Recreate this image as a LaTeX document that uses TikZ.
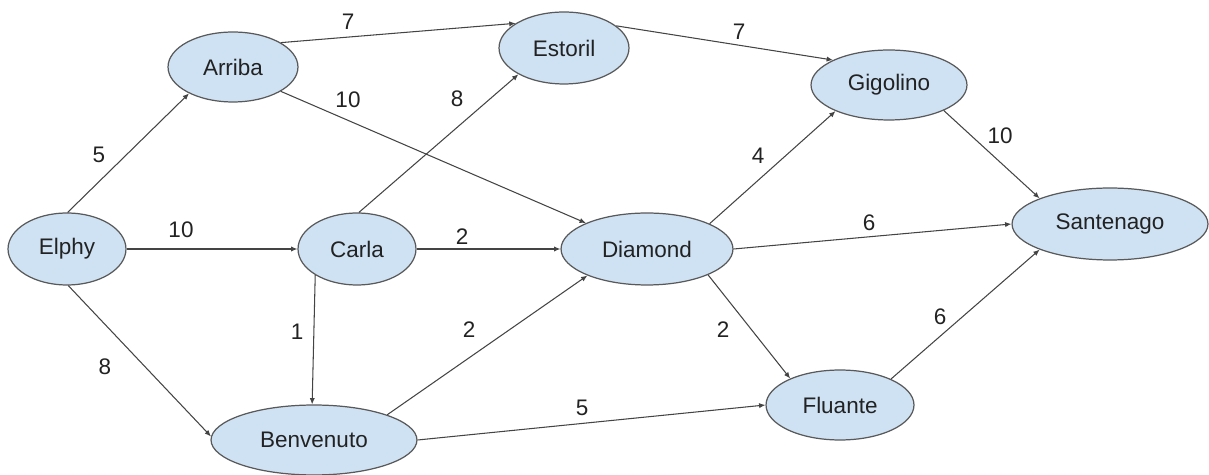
\documentclass[tikz,border=0pt]{standalone}
\usepackage{fontspec}
\setmainfont{Liberation Sans}
\usetikzlibrary{shapes.geometric,arrows.meta}
\definecolor{nodefill}{HTML}{CFE2F3}
\definecolor{nodeline}{HTML}{595959}
\definecolor{edgeline}{HTML}{444444}
\definecolor{txt}{HTML}{222222}
\tikzset{
  city/.style={ellipse, draw=nodeline, fill=nodefill, line width=0.7pt, inner sep=0pt,
    text=txt, font=\fontsize{12.8}{15}\selectfont},
  sz/.style 2 args={minimum width=#1*0.04cm, minimum height=#2*0.04cm},
  road/.style={draw=edgeline, line width=0.6pt, -{Latex[length=3.6pt,width=3pt]}},
  wt/.style={text=txt, inner sep=0pt, font=\fontsize{12.8}{15}\selectfont},
}
\begin{document}
\begin{tikzpicture}[x=0.02cm,y=-0.02cm]
\useasboundingbox (0,0) rectangle (1209,475);
% nodes (size given as radii in px)
\node[city, sz={59}{36}]  (elphy)     at (67,249)   {Elphy};
\node[city, sz={65}{35}]  (arriba)    at (233,67)   {Arriba};
\node[city, sz={59}{36}]  (carla)     at (357,249)  {Carla};
\node[city, sz={65}{36}]  (estoril)   at (564,48)   {Estoril};
\node[city, sz={86}{36}]  (diamond)   at (647,249)  {Diamond};
\node[city, sz={78}{35}]  (gigolino)  at (889,85)   {Gigolino};
\node[city, sz={98}{36}]  (santenago) at (1110,224) {Santenago};
\node[city, sz={74}{35}]  (fluante)   at (840,405)  {Fluante};
\node[city, sz={103}{35}] (benvenuto) at (314,440)  {Benvenuto};
% edges
\draw[road] (elphy.89)     -- (arriba.211);
\draw[road] (elphy.0)      -- (carla.180);
\draw[road] (elphy.-88)    -- (benvenuto.178);
\draw[road] (arriba.27)    -- (estoril.153);
\draw[road] (arriba.-27)   -- (diamond.157);
\draw[road] (carla.87)     -- (estoril.210);
\draw[road] (carla.0)      -- (diamond.180);
\draw[road] (carla.212)    -- (benvenuto.93);
\draw[road] (benvenuto.19) -- (diamond.204);
\draw[road] (benvenuto.0)  -- (fluante.180);
\draw[road] (diamond.22)   -- (gigolino.206);
\draw[road] (diamond.0)    -- (santenago.180);
\draw[road] (diamond.-23)  -- (fluante.152);
\draw[road] (estoril.23)   -- (gigolino.156);
\draw[road] (gigolino.-25) -- (santenago.160);
\draw[road] (fluante.27)   -- (santenago.200);
% weights
\node[wt] (w1)  at (348,22)  {7};
\node[wt] (w2)  at (739,32)  {7};
\node[wt] (w3)  at (348,100) {10};
\node[wt] (w4)  at (457,99)  {8};
\node[wt] (w5)  at (99,155)  {5};
\node[wt] (w6)  at (181,230) {10};
\node[wt] (w7)  at (462,237) {2};
\node[wt] (w8)  at (758,156) {4};
\node[wt] (w9)  at (1000,136) {10};
\node[wt] (w10) at (869,223) {6};
\node[wt] (w11) at (297,332) {1};
\node[wt] (w12) at (469,330) {2};
\node[wt] (w13) at (723,330) {2};
\node[wt] (w14) at (940,317) {6};
\node[wt] (w15) at (105,367) {8};
\node[wt] (w16) at (582,408) {5};
\end{tikzpicture}
\end{document}
